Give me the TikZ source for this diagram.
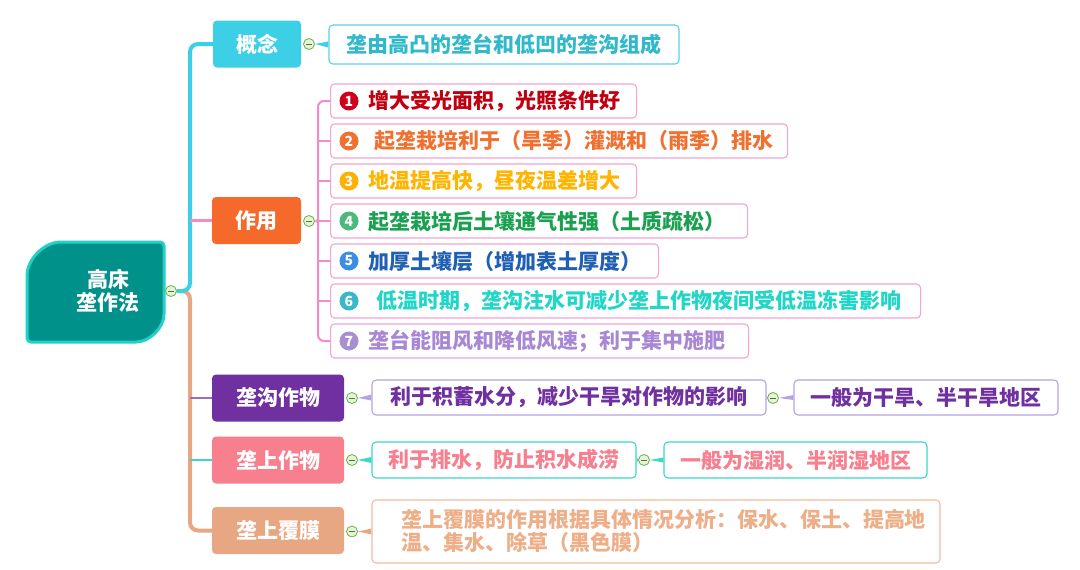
\documentclass[tikz,border=0pt]{standalone}
\usepackage{fontspec}
\setmainfont{Noto Sans CJK SC}
\definecolor{cCyan}{HTML}{3CCFE6}
\definecolor{cCyanB}{HTML}{5AD2E8}
\definecolor{cCyanT}{HTML}{2FB9CB}
\definecolor{cOrange}{HTML}{F56A2B}
\definecolor{cPink}{HTML}{F38BC9}
\definecolor{cPinkB}{HTML}{F4A3D3}
\definecolor{cPurple}{HTML}{7030A0}
\definecolor{cLav}{HTML}{B6A2E2}
\definecolor{cRose}{HTML}{F77F8E}
\definecolor{cTeal}{HTML}{3ED6C6}
\definecolor{cSalmon}{HTML}{E8A783}
\definecolor{cSalmonB}{HTML}{F2BC9C}
\definecolor{cSalmonT}{HTML}{EEAE88}
\definecolor{rootFill}{HTML}{00918A}
\definecolor{rootEdge}{HTML}{22D0C6}
\definecolor{mkEdge}{HTML}{6AB04C}
\definecolor{mkFill}{HTML}{E6F3D8}
\definecolor{tA}{HTML}{C00010}\definecolor{nA}{HTML}{D0001C}
\definecolor{tB}{HTML}{F07030}\definecolor{nB}{HTML}{F07030}
\definecolor{tC}{HTML}{FFB400}\definecolor{nC}{HTML}{FFB000}
\definecolor{tD}{HTML}{1AA050}\definecolor{nD}{HTML}{4CB87A}
\definecolor{tE}{HTML}{1F5FB4}\definecolor{nE}{HTML}{3B8EE0}
\definecolor{tF}{HTML}{20D6C6}\definecolor{nF}{HTML}{38B8C8}
\definecolor{tG}{HTML}{A888D4}\definecolor{nG}{HTML}{A890D0}
\pgfdeclarelayer{bg}
\pgfsetlayers{bg,main}
\begin{document}
\begin{tikzpicture}[x=1pt,y=-1pt,
  every node/.style={inner sep=0pt},
  txt/.style={font=\bfseries\fontsize{21}{23}\selectfont},
  lone/.style={txt, rounded corners=4pt, minimum height=47pt, text=white},
  box/.style={txt, draw, fill=white, rounded corners=4pt, line width=1.1pt},
  item/.style={box, draw=cPinkB, anchor=west, minimum height=34pt, inner xsep=8pt, align=left},
  num/.style={circle, minimum size=19pt, text=white, font=\bfseries\fontsize{14}{14}\selectfont},
  mk/.style={circle, draw=mkEdge, fill=mkFill, line width=0.8pt, minimum size=11pt,
    path picture={\draw[mkEdge!70!black, line width=1pt]
      ([xshift=-3pt]path picture bounding box.center) -- ([xshift=3pt]path picture bounding box.center);}},
]
\useasboundingbox (0,0) rectangle (1080,570);

% root shape
\filldraw[fill=rootFill, draw=rootEdge, line width=3pt, rounded corners=4pt]
  (110,242) -- (164,242) -- (164,310) .. controls (164,327.7) and (149.7,342) .. (132,342)
  -- (27,342) -- (27,280) .. controls (27,259) and (44,242) .. (65,242) -- cycle;
\node[txt, text=white, align=center] (root) at (108,291) {高床\\垄作法};

% level 1
\node[lone, fill=cCyan, minimum width=88pt] (gn) at (257,44) {概念};
\node[lone, fill=cOrange, minimum width=89pt] (zy) at (256.5,220.5) {作用};
\node[lone, fill=cPurple, minimum width=132pt] (gw) at (278,398) {垄沟作物};
\node[lone, fill=cRose, minimum width=132pt] (sw) at (278,460) {垄上作物};
\node[lone, fill=cSalmon, minimum width=132pt] (fm) at (278,530.5) {垄上覆膜};

% level 2
\node[box, draw=cCyanB, text=cCyanT, minimum width=350pt, minimum height=39pt] (c0) at (504,44.5) {垄由高凸的垄台和低凹的垄沟组成};

\node[item, text=tA, text width=290pt] (b1) at (330,101) {\hspace*{30pt}增大受光面积，光照条件好};
\node[item, text=tB, text width=441pt] (b2) at (330,141) {\hspace*{36pt}起垄栽培利于（旱季）灌溉和（雨季）排水};
\node[item, text=tC, text width=290pt] (b3) at (330,181) {\hspace*{30pt}地温提高快，昼夜温差增大};
\node[item, text=tD, text width=401pt] (b4) at (330,221) {\hspace*{30pt}起垄栽培后土壤通气性强（土质疏松）};
\node[item, text=tE, text width=312pt] (b5) at (330,261) {\hspace*{30pt}加厚土壤层（增加表土厚度）};
\node[item, text=tF, text width=574pt] (b6) at (330,301) {\hspace*{38pt}低温时期，垄沟注水可减少垄上作物夜间受低温冻害影响};
\node[item, text=tG, text width=402pt] (b7) at (330,341) {\hspace*{30pt}垄台能阻风和降低风速；利于集中施肥};

\node[num, fill=nA] (n1) at ([xshift=19pt]b1.west) {1};
\node[num, fill=nB] (n2) at ([xshift=19pt]b2.west) {2};
\node[num, fill=nC] (n3) at ([xshift=19pt]b3.west) {3};
\node[num, fill=nD] (n4) at ([xshift=19pt]b4.west) {4};
\node[num, fill=nE] (n5) at ([xshift=19pt]b5.west) {5};
\node[num, fill=nF] (n6) at ([xshift=19pt]b6.west) {6};
\node[num, fill=nG] (n7) at ([xshift=19pt]b7.west) {7};

\node[box, draw=cLav, text=cPurple, minimum width=394pt, minimum height=35pt] (p1) at (569,397.5) {利于积蓄水分，减少干旱对作物的影响};
\node[box, draw=cLav, text=cPurple, minimum width=264pt, minimum height=35pt] (p2) at (926,397.5) {一般为干旱、半干旱地区};
\node[box, draw=cTeal, text=cRose, minimum width=264pt, minimum height=36pt] (q1) at (504,460) {利于排水，防止积水成涝};
\node[box, draw=cTeal, text=cRose, minimum width=263pt, minimum height=36pt] (q2) at (795.5,460) {一般为湿润、半润湿地区};
\node[box, draw=cSalmonB, text=cSalmonT, text width=540pt, inner xsep=14pt, minimum height=63pt, align=left] (r1) at (656,531.5)
  {\hspace*{15pt}垄上覆膜的作用根据具体情况分析：保水、保土、提高地\\\hspace*{15pt}温、集水、除草（黑色膜）};

% markers
\node[mk] (m0) at (171,291) {};
\node[mk] (m1) at (309,44) {};
\node[mk] (m2) at (309,221) {};
\node[mk] (m3) at (352,398) {};
\node[mk] (m4) at (352,460) {};
\node[mk] (m5) at (352,531.5) {};
\node[mk] (m6) at (773,398) {};
\node[mk] (m7) at (644,460) {};

\coordinate (jx) at (190,291);
\coordinate (bx) at (318,221);

\begin{pgfonlayer}{bg}
  \draw[cSalmon, line width=4pt, rounded corners=8pt] (m0.east) -- (jx) |- (fm.west);
  \draw[cCyan, line width=4pt, rounded corners=8pt] (m0.east) -- (jx) |- (gn.west);
  \draw[cPink, line width=2.5pt] (jx |- zy.west) -- (zy.west);
  \draw[cPurple!70, line width=2pt] (jx |- gw.west) -- (gw.west);
  \draw[cTeal, line width=2pt] (jx |- sw.west) -- (sw.west);

  \fill[cCyan] (m1.east) -- ([yshift=3pt]c0.west) -- ([yshift=-3pt]c0.west) -- cycle;

  \fill[cPink] (m2.east) -- ([yshift=3pt]bx) -- ([yshift=-3pt]bx) -- cycle;
  \draw[cPink, line width=2pt, rounded corners=6pt] (b1.west) -| (bx) |- (b7.west);
  \foreach \b in {b2,b3,b4,b5,b6}
    \draw[cPink, line width=1.5pt] (bx |- \b.west) -- (\b.west);

  \fill[cLav] (m3.east) -- ([yshift=3pt]p1.west) -- ([yshift=-3pt]p1.west) -- cycle;
  \fill[cLav] ([yshift=4pt]p1.east) -- (m6.west) -- ([yshift=-4pt]p1.east) -- cycle;
  \fill[cLav] (m6.east) -- ([yshift=2.5pt]p2.west) -- ([yshift=-2.5pt]p2.west) -- cycle;

  \fill[cTeal] (m4.east) -- ([yshift=3pt]q1.west) -- ([yshift=-3pt]q1.west) -- cycle;
  \fill[cTeal] ([yshift=4pt]q1.east) -- (m7.west) -- ([yshift=-4pt]q1.east) -- cycle;
  \fill[cTeal] (m7.east) -- ([yshift=2.5pt]q2.west) -- ([yshift=-2.5pt]q2.west) -- cycle;

  \fill[cSalmon] (m5.east) -- ([yshift=3pt]r1.west) -- ([yshift=-3pt]r1.west) -- cycle;
\end{pgfonlayer}
\end{tikzpicture}
\end{document}
